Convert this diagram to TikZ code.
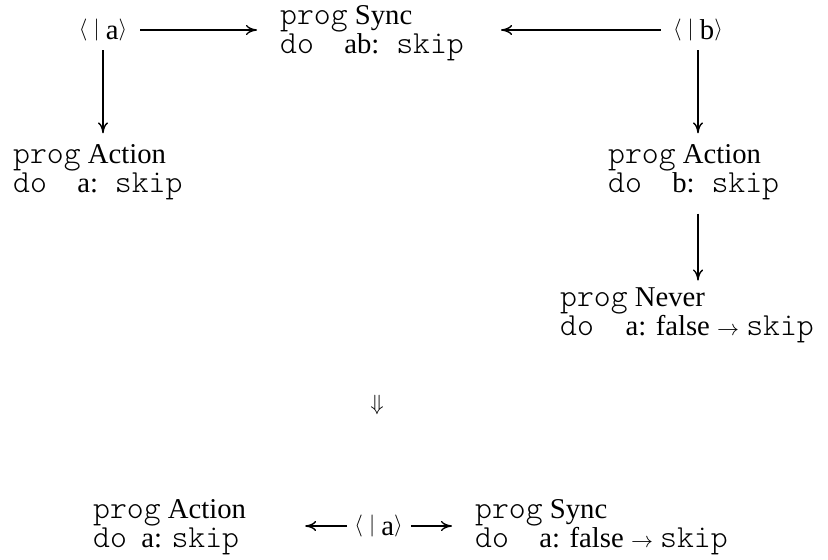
\RequirePackage{fix-cm}
\documentclass[tikz,border=0pt]{standalone}
\usepackage{fontspec}
\setmainfont{Liberation Serif}
\setmonofont{Latin Modern Mono Light}[Scale=1.12]
\usetikzlibrary{arrows.meta}
\newcommand\blk[2]{\vtop{\baselineskip=29pt\lineskiplimit=-20pt\hbox{#1}\hbox{#2}}}
\newcommand\mth[1]{{\fontsize{22}{22}\selectfont$#1$}}
\newcommand\brk[1]{\raisebox{4pt}{\mth{\langle\mskip5mu|\mskip5mu}}#1\raisebox{4pt}{\mth{\rangle}}}
\begin{document}
\begin{tikzpicture}[x=1pt,y=-1pt,
  every node/.style={inner sep=0pt, font=\fontsize{28.7}{29}\selectfont},
  blkn/.style={anchor=base west},
  conn/.style={line width=1.4pt, -{Computer Modern Rightarrow[length=11pt,width=10pt]}}]
\useasboundingbox (0,0) rectangle (828,560);
\node (a1) at (103,30) {\brk{a}};
\node (b1) at (698,30) {\brk{b}};
\node[blkn] (sync) at (280,24) {\blk{\texttt{prog} Sync}{\texttt{do}\hspace{1.06em}ab:\texttt{\ skip}}};
\node[blkn] (actL) at (13,163) {\blk{\texttt{prog} Action}{\texttt{do}\hspace{1.06em}a:\texttt{\ skip}}};
\node[blkn] (actR) at (608,163) {\blk{\texttt{prog} Action}{\texttt{do}\hspace{1.06em}b:\texttt{\ skip}}};
\node[blkn] (never) at (560,306) {\blk{\texttt{prog} Never}{\texttt{do}\hspace{1.1em}a: false \mth{\rightarrow} \texttt{skip}}};
\node (dn) at (377,405) {\mth{\Downarrow}};
\node[blkn] (botL) at (93,518) {\blk{\texttt{prog} Action}{\texttt{do}\hspace{0.5em}a: \texttt{skip}}};
\node[blkn] (botR) at (475,518) {\blk{\texttt{prog} Sync}{\texttt{do}\hspace{1.06em}a: false \mth{\rightarrow} \texttt{skip}}};
\node (a2) at (377,526) {\hspace{3pt}\brk{a}\hspace{3pt}};
\draw[conn, shorten <=13pt, shorten >=23pt] (a1.east) -- (a1.east -| sync.west);
\draw[conn, shorten <=12pt, shorten >=37pt] (b1.west) -- (b1.west -| sync.east);
\draw[conn, shorten <=9pt, shorten >=10.5pt] (a1.south) -- (a1.south |- actL.north);
\draw[conn, shorten <=9pt, shorten >=10.5pt] (b1.south) -- (b1.south |- actR.north);
\draw[conn, shorten <=14pt, shorten >=6.5pt] (actR.south -| b1) -- (never.north -| b1);
\draw[conn, shorten <=4pt, shorten >=59pt] (a2.west) -- (a2.west -| botL.east);
\draw[conn, shorten <=8pt, shorten >=23pt] (a2.east) -- (a2.east -| botR.west);
\end{tikzpicture}
\end{document}
